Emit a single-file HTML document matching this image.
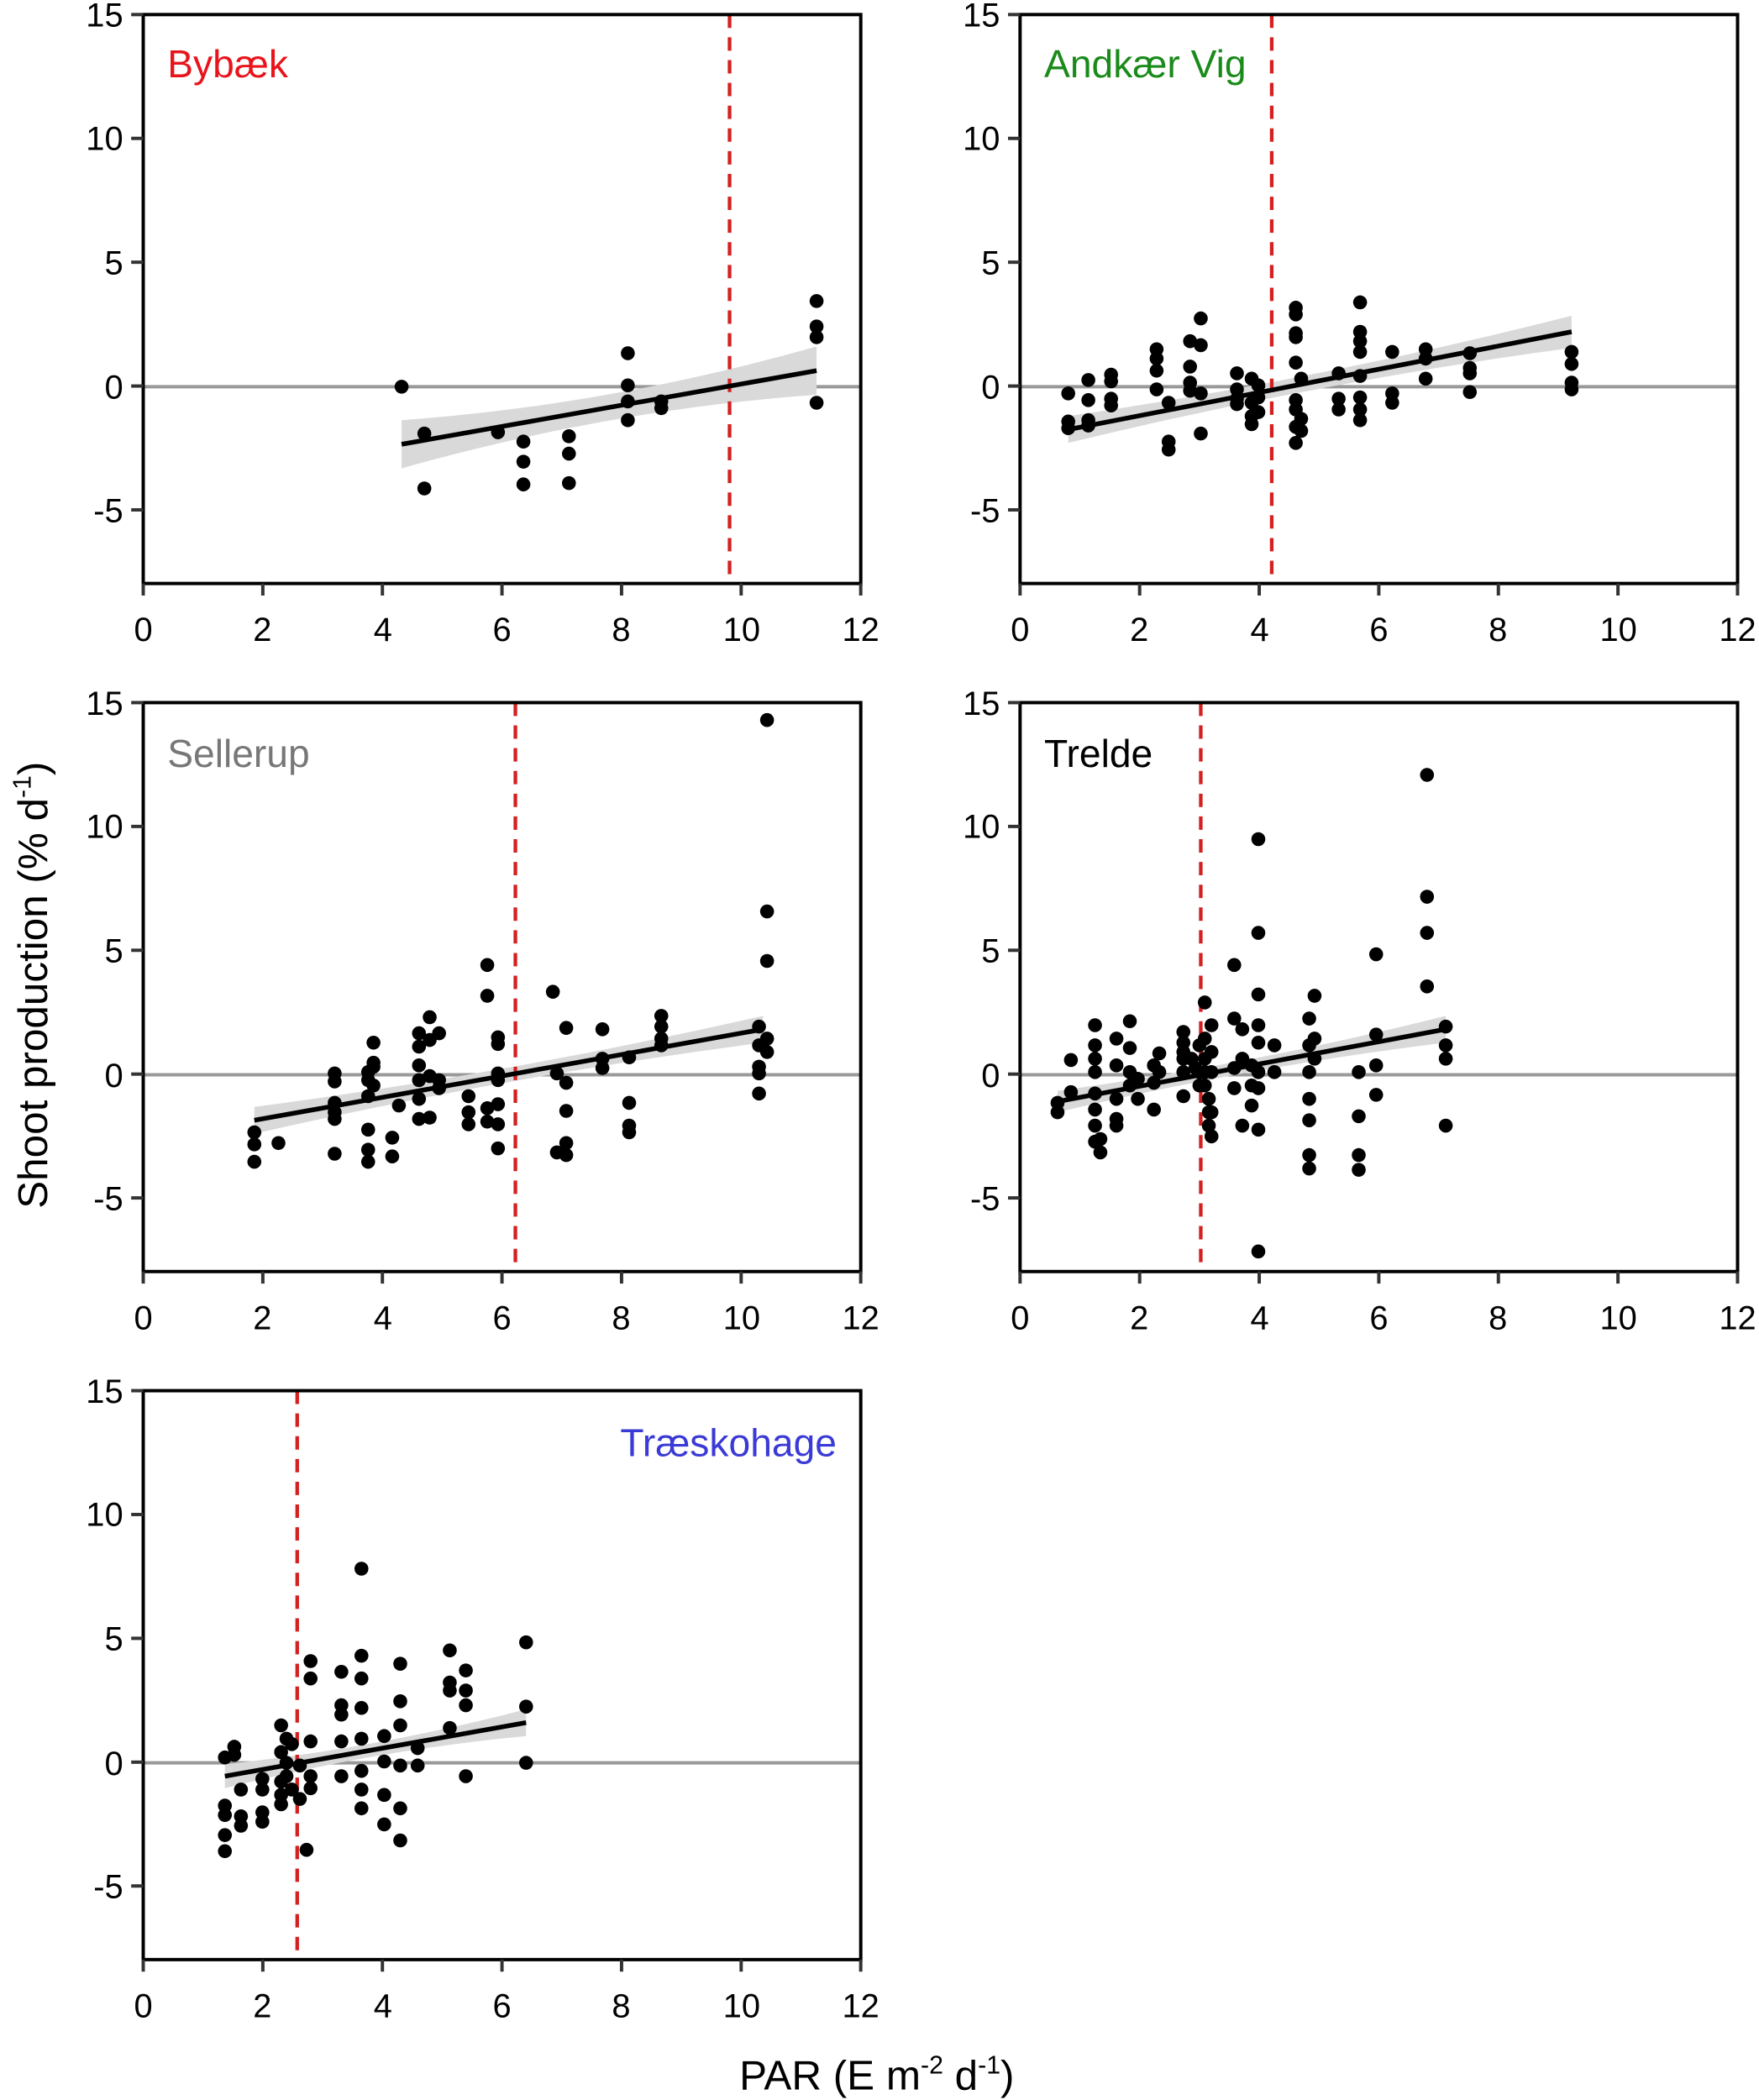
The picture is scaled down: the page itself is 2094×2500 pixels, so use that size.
<!DOCTYPE html>
<html><head><meta charset="utf-8"><style>
html,body{margin:0;padding:0;background:#fff}
svg{display:block}
text{font-family:"Liberation Sans",Arial,sans-serif}
</style></head><body>
<svg id="s" width="2094" height="2500" viewBox="0 0 1314 1567" xmlns="http://www.w3.org/2000/svg">
<g id="plots"></g>
<g font-size="25" fill="#000" text-anchor="end">
<text x="92" y="19">15</text><text x="92" y="111">10</text><text x="92" y="204">5</text><text x="92" y="297">0</text><text x="92" y="389">-5</text>
<text x="747" y="19">15</text><text x="747" y="111">10</text><text x="747" y="204">5</text><text x="747" y="297">0</text><text x="747" y="389">-5</text>
<text x="92" y="533">15</text><text x="92" y="625">10</text><text x="92" y="718">5</text><text x="92" y="811">0</text><text x="92" y="903">-5</text>
<text x="747" y="533">15</text><text x="747" y="625">10</text><text x="747" y="718">5</text><text x="747" y="811">0</text><text x="747" y="903">-5</text>
<text x="92" y="1047">15</text><text x="92" y="1139">10</text><text x="92" y="1232">5</text><text x="92" y="1325">0</text><text x="92" y="1417">-5</text>
</g>
<g font-size="25" fill="#000" text-anchor="middle">
<text x="107" y="478">0</text><text x="196" y="478">2</text><text x="286" y="478">4</text><text x="375" y="478">6</text><text x="464" y="478">8</text><text x="554" y="478">10</text><text x="643" y="478">12</text>
<text x="762" y="478">0</text><text x="851" y="478">2</text><text x="941" y="478">4</text><text x="1030" y="478">6</text><text x="1119" y="478">8</text><text x="1209" y="478">10</text><text x="1298" y="478">12</text>
<text x="107" y="992">0</text><text x="196" y="992">2</text><text x="286" y="992">4</text><text x="375" y="992">6</text><text x="464" y="992">8</text><text x="554" y="992">10</text><text x="643" y="992">12</text>
<text x="762" y="992">0</text><text x="851" y="992">2</text><text x="941" y="992">4</text><text x="1030" y="992">6</text><text x="1119" y="992">8</text><text x="1209" y="992">10</text><text x="1298" y="992">12</text>
<text x="107" y="1506">0</text><text x="196" y="1506">2</text><text x="286" y="1506">4</text><text x="375" y="1506">6</text><text x="464" y="1506">8</text><text x="554" y="1506">10</text><text x="643" y="1506">12</text>
</g>
<g font-size="29">
<text x="125" y="57" fill="#e8141c">Bybæk</text>
<text x="780" y="57" fill="#1a8a1a">Andkær Vig</text>
<text x="125" y="572" fill="#777">Sellerup</text>
<text x="780" y="572" fill="#000">Trelde</text>
<text x="625" y="1087" fill="#3a3ad6" text-anchor="end">Træskohage</text>
</g>
<text transform="translate(35,735) rotate(-90)" font-size="31" text-anchor="middle">Shoot production (% d<tspan dy="-12" font-size="19">-1</tspan><tspan dy="12">)</tspan></text>
<text x="655" y="1560" font-size="31" text-anchor="middle">PAR (E m<tspan dy="-12" font-size="19">-2</tspan><tspan dy="12"> d</tspan><tspan dy="-12" font-size="19">-1</tspan><tspan dy="12">)</tspan></text>
</svg>
<script>
var NS="http://www.w3.org/2000/svg",G=document.getElementById("plots");
function el(t,a){var e=document.createElementNS(NS,t);for(var k in a)e.setAttribute(k,a[k]);G.appendChild(e);return e;}
function panel(L,T,dash,line,band,pts){
 var R=L+536,B=T+425,y0=T+278;
 el("line",{x1:L,y1:y0,x2:R,y2:y0,stroke:"#999","stroke-width":2.5});
 var x1=line[0],ya=line[1],x2=line[2],yb=line[3];
 var bl=band[0],bm=band[1],br=band[2],xm=(x1+x2)/2,ym=(ya+yb)/2;
 el("path",{d:"M"+x1+","+(ya-bl)+" Q"+xm+","+(ym-bm*0.2)+" "+x2+","+(yb-br)+" L"+x2+","+(yb+br)+" Q"+xm+","+(ym+bm*0.2)+" "+x1+","+(ya+bl)+"Z",fill:"#d9d9d9"});
 el("line",{x1:dash,y1:T,x2:dash,y2:B,stroke:"#d42020","stroke-width":2.7,"stroke-dasharray":"10,7"});
 el("line",{x1:x1,y1:ya,x2:x2,y2:yb,stroke:"#000","stroke-width":3.5});
 for(var i=0;i<pts.length;i+=2)el("circle",{cx:pts[i],cy:pts[i+1],r:5.2,fill:"#000"});
 el("rect",{x:L,y:T,width:536,height:425,fill:"none",stroke:"#000","stroke-width":2.5});
 for(var k=0;k<5;k++){var yy=T+k*92.5;el("line",{x1:L-9,y1:yy,x2:L,y2:yy,stroke:"#333","stroke-width":2.5});}
 for(var k=0;k<=6;k++){var xx=L+k*89.33;el("line",{x1:xx,y1:B,x2:xx,y2:B+9,stroke:"#333","stroke-width":2.5});}
}
panel(107,10,545,[300,331,610,276],[18,8,18],[300,288,317,323,317,364,372,322,391,329,391,344,391,361,425,325,425,338,425,360,469,263,469,287,469,299,469,313,494,299,494,304,610,224,610,243,610,251,610,300]);
panel(762,10,950,[798,320,1174,247],[10,4,12],[798,293,798,314,798,319,813,283,813,298,813,313,813,317,830,279,830,284,830,297,830,302,864,260,864,267,864,276,864,290,873,300,873,329,873,335,889,254,889,273,889,285,889,291,897,237,897,257,897,293,897,323,924,278,924,290,924,297,924,301,935,282,935,300,935,310,935,316,940,287,940,296,940,307,968,229,968,234,968,248,968,251,968,270,968,298,968,305,968,318,968,330,972,282,972,312,972,321,1000,278,1000,297,1000,305,1016,225,1016,247,1016,254,1016,262,1016,280,1016,296,1016,305,1016,313,1040,262,1040,293,1040,300,1065,260,1065,267,1065,282,1098,263,1098,274,1098,278,1098,292,1174,262,1174,271,1174,285,1174,290]);
panel(107,524,385,[190,836,570,768],[10,4,10],[190,845,190,854,190,867,208,853,250,801,250,807,250,823,250,830,250,835,250,861,275,800,275,806,275,818,275,843,275,858,275,867,279,778,279,793,279,796,279,810,293,849,293,863,298,825,313,771,313,781,313,795,313,806,313,820,313,835,321,759,321,776,321,803,321,834,328,771,328,806,328,812,350,818,350,830,350,839,364,720,364,743,364,827,364,837,372,774,372,779,372,801,372,806,372,824,372,839,372,857,413,740,416,801,416,860,423,767,423,808,423,829,423,853,423,862,450,768,450,790,450,797,470,789,470,823,470,840,470,845,494,758,494,766,494,775,494,780,567,766,567,780,567,796,567,801,567,816,573,537,573,680,573,717,573,775,573,785]);
panel(762,524,897,[790,822,1080,768],[8,3,10],[790,823,790,830,800,791,800,815,818,765,818,780,818,790,818,800,818,816,818,828,818,840,818,852,822,850,822,860,834,775,834,795,834,820,834,835,834,840,844,762,844,782,844,800,844,810,850,805,850,820,862,795,862,808,862,828,866,786,866,800,884,770,884,778,884,785,884,790,884,800,884,818,890,790,893,797,896,780,896,800,896,810,900,748,900,775,900,790,900,800,900,810,903,820,903,830,903,840,905,765,905,785,905,800,905,830,905,848,922,720,922,760,922,797,922,812,928,768,928,790,928,840,935,795,935,810,935,825,940,626,940,696,940,742,940,765,940,778,940,800,940,812,940,843,940,934,952,780,952,800,978,760,978,780,978,800,978,820,978,836,978,862,978,872,982,743,982,775,982,790,1015,800,1015,833,1015,862,1015,873,1028,712,1028,772,1028,795,1028,817,1066,578,1066,669,1066,696,1066,736,1080,766,1080,780,1080,790,1080,840]);
panel(107,1038,222,[168,1326,393,1286],[9,3,10],[168,1312,168,1348,168,1355,168,1370,168,1382,175,1304,175,1310,180,1336,180,1356,180,1363,196,1328,196,1336,196,1353,196,1360,210,1288,210,1308,210,1330,210,1340,210,1347,214,1298,214,1316,214,1326,218,1302,218,1336,224,1318,224,1343,229,1381,232,1240,232,1253,232,1300,232,1326,232,1335,255,1248,255,1273,255,1280,255,1300,255,1326,270,1171,270,1236,270,1253,270,1275,270,1298,270,1322,270,1336,270,1350,287,1296,287,1315,287,1340,287,1362,299,1242,299,1270,299,1288,299,1318,299,1350,299,1374,312,1305,312,1318,336,1232,336,1256,336,1262,336,1290,348,1247,348,1262,348,1273,348,1326,393,1226,393,1274,393,1316]);
</script>
</body></html>
